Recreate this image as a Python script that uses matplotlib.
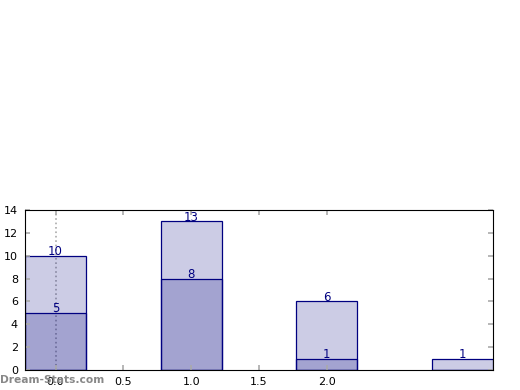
import matplotlib
matplotlib.use("Agg")
import matplotlib.pyplot as plt

positions = [0, 1, 2, 3]
totals = [10, 13, 6, 1]
subset = [5, 8, 1, 0]
xticks = [0.0, 0.5, 1.0, 1.5, 2.0]
yticks = [0, 2, 4, 6, 8, 10, 12, 14]

fig = plt.figure(figsize=(5.2, 3.9), dpi=100)
ax = fig.add_axes([25 / 520, 20 / 390, 468 / 520, 160 / 390])

width = 0.45
ax.bar(positions, totals, width=width, color="navy", alpha=0.2, edgecolor="none")
ax.bar(positions, totals, width=width, fill=False, edgecolor="navy", linewidth=0.9)
ax.bar(positions, subset, width=width, color="navy", alpha=0.2, edgecolor="none")
ax.bar(positions, subset, width=width, fill=False, edgecolor="navy", linewidth=0.9)

for x, t, s in zip(positions, totals, subset):
    ax.annotate(str(t), (x, t), xytext=(0, 3), textcoords="offset points",
                ha="center", va="center", color="navy", fontsize=8.5)
    if s > 0:
        ax.annotate(str(s), (x, s), xytext=(0, 3), textcoords="offset points",
                    ha="center", va="center", color="navy", fontsize=8.5)

ax.axvline(0, color="#aaaaaa", linestyle=":", linewidth=1.2, zorder=0.5)

ax.set_xlim(-0.225, 3.225)
ax.set_ylim(0, 14)
ax.set_xticks(xticks)
ax.set_xticklabels([f"{v:.1f}" for v in xticks])
ax.set_yticks(yticks)
ax.tick_params(direction="in", color="#aaaaaa", length=3.5, width=1.2,
               top=True, right=True, labelsize=8, pad=5)

fig.text(0, 10 / 390, "Dream-Stats.com", color="#888888", fontsize=7.7,
         fontweight="bold", ha="left", va="center")

fig.savefig("out.png", dpi=100)
